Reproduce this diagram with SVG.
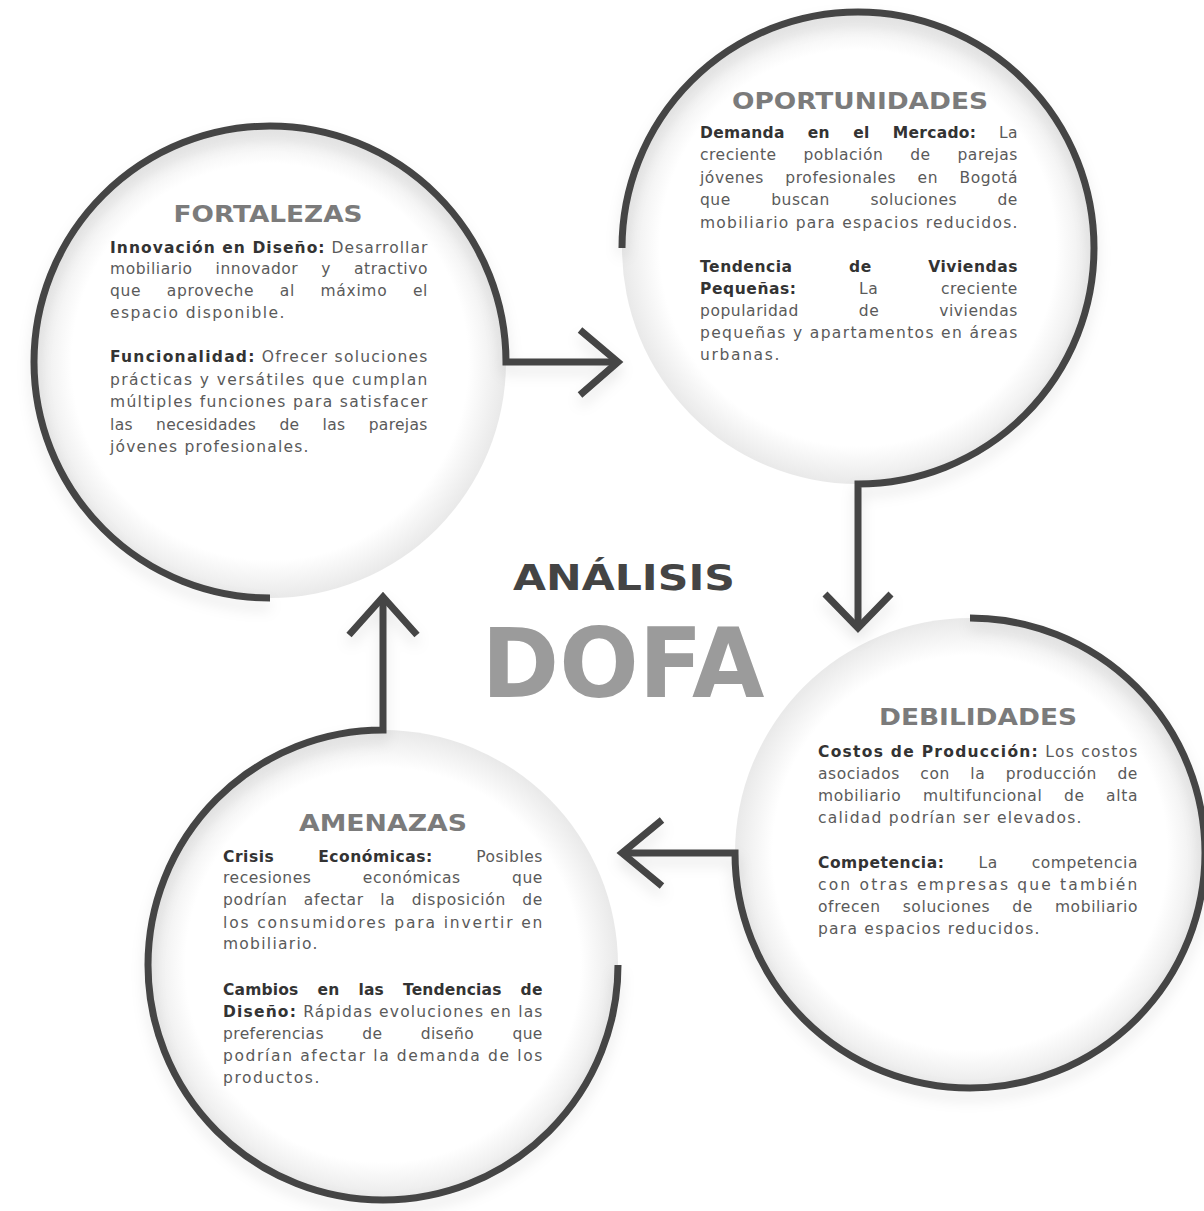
<svg xmlns="http://www.w3.org/2000/svg" width="1204" height="1211" viewBox="0 0 1204 1211">
<style>
.c{fill:none;stroke:#454545;stroke-width:7;stroke-linecap:butt;stroke-linejoin:miter}
.h{font-family:"DejaVu Sans","Liberation Sans",sans-serif;font-weight:bold;font-size:23px;fill:#7b7b7b}
.t{font-family:"DejaVu Sans","Liberation Sans",sans-serif;font-size:15.5px;fill:#5a5a5a;letter-spacing:0.6px}
.b{font-weight:bold;fill:#333}
</style>
<defs>
<radialGradient id="g" cx="0.5" cy="0.5" r="0.5">
<stop offset="0.84" stop-color="#ffffff"/>
<stop offset="1" stop-color="#e9e9e9"/>
</radialGradient>
<filter id="s" x="-20%" y="-20%" width="140%" height="140%">
<feDropShadow dx="0" dy="8" stdDeviation="7" flood-color="#000" flood-opacity="0.10"/>
</filter>
</defs>
<rect width="1204" height="1211" fill="#ffffff"/>

<g id="bg">
<circle cx="270" cy="362" r="236" fill="url(#g)"/>
<circle cx="858" cy="248" r="236" fill="url(#g)"/>
<circle cx="970" cy="853" r="235" fill="url(#g)"/>
<circle cx="383" cy="965" r="235" fill="url(#g)"/>
</g>

<g id="connectors" filter="url(#s)">
<path class="c" d="M270,598 A236,236 0 1 1 506,362 L618,362"/>
<path class="c" d="M580,330 L618,362 L580,395"/>
<path class="c" d="M622,248 A236,236 0 1 1 858,484 L858,628"/>
<path class="c" d="M825,594 L858,628 L891,594"/>
<path class="c" d="M970,618 A235,235 0 1 1 735,853 L622,853"/>
<path class="c" d="M662,820 L622,853 L662,886"/>
<path class="c" d="M618,965 A235,235 0 1 1 383,730 L383,597"/>
<path class="c" d="M349,635 L383,597 L417,635"/>
</g>

<g id="title">
<text x="624" y="590" text-anchor="middle" textLength="222" lengthAdjust="spacingAndGlyphs" font-family="DejaVu Sans, sans-serif" font-weight="bold" font-size="35" fill="#444">ANÁLISIS</text>
<text x="623" y="697" text-anchor="middle" textLength="283" lengthAdjust="spacingAndGlyphs" font-family="DejaVu Sans, sans-serif" font-weight="bold" font-size="97" fill="#9b9b9b">DOFA</text>
</g>

<g id="fortalezas">
<text class="h" x="268" y="222" text-anchor="middle" textLength="189" lengthAdjust="spacingAndGlyphs">FORTALEZAS</text>
<text class="t" x="110" y="253" textLength="318" lengthAdjust="spacing"><tspan class="b">Innovación en Diseño:</tspan> Desarrollar</text>
<text class="t" x="110" y="274" textLength="318" lengthAdjust="spacing" style="word-spacing:17.5px">mobiliario innovador y atractivo</text>
<text class="t" x="110" y="296" textLength="318" lengthAdjust="spacing" style="word-spacing:20px">que aproveche al máximo el</text>
<text class="t" x="110" y="318" textLength="175" lengthAdjust="spacing">espacio disponible.</text>
<text class="t" x="110" y="362" textLength="318" lengthAdjust="spacing"><tspan class="b">Funcionalidad:</tspan> Ofrecer soluciones</text>
<text class="t" x="110" y="385" textLength="318" lengthAdjust="spacing">prácticas y versátiles que cumplan</text>
<text class="t" x="110" y="407" textLength="318" lengthAdjust="spacing">múltiples funciones para satisfacer</text>
<text class="t" x="110" y="430" textLength="318" lengthAdjust="spacing" style="word-spacing:18px">las necesidades de las parejas</text>
<text class="t" x="110" y="452" textLength="199" lengthAdjust="spacing">jóvenes profesionales.</text>
</g>

<g id="oportunidades">
<text class="h" x="860" y="109" text-anchor="middle" textLength="256" lengthAdjust="spacingAndGlyphs">OPORTUNIDADES</text>
<text class="t" x="700" y="138" textLength="318" lengthAdjust="spacing" style="word-spacing:17.5px"><tspan class="b">Demanda en el Mercado:</tspan> La</text>
<text class="t" x="700" y="160" textLength="318" lengthAdjust="spacing" style="word-spacing:21.5px">creciente población de parejas</text>
<text class="t" x="700" y="183" textLength="318" lengthAdjust="spacing" style="word-spacing:16px">jóvenes profesionales en Bogotá</text>
<text class="t" x="700" y="205" textLength="318" lengthAdjust="spacing" style="word-spacing:35px">que buscan soluciones de</text>
<text class="t" x="700" y="228" textLength="318" lengthAdjust="spacing">mobiliario para espacios reducidos.</text>
<text class="t b" x="700" y="272" textLength="318" lengthAdjust="spacing" style="word-spacing:50.5px">Tendencia de Viviendas</text>
<text class="t" x="700" y="294" textLength="318" lengthAdjust="spacing" style="word-spacing:57px"><tspan class="b">Pequeñas:</tspan> La creciente</text>
<text class="t" x="700" y="316" textLength="318" lengthAdjust="spacing" style="word-spacing:54.5px">popularidad de viviendas</text>
<text class="t" x="700" y="338" textLength="318" lengthAdjust="spacing">pequeñas y apartamentos en áreas</text>
<text class="t" x="700" y="360" textLength="80" lengthAdjust="spacing">urbanas.</text>
</g>

<g id="debilidades">
<text class="h" x="978" y="725" text-anchor="middle" textLength="198" lengthAdjust="spacingAndGlyphs">DEBILIDADES</text>
<text class="t" x="818" y="757" textLength="320" lengthAdjust="spacing"><tspan class="b">Costos de Producción:</tspan> Los costos</text>
<text class="t" x="818" y="779" textLength="320" lengthAdjust="spacing" style="word-spacing:15px">asociados con la producción de</text>
<text class="t" x="818" y="801" textLength="320" lengthAdjust="spacing" style="word-spacing:16px">mobiliario multifuncional de alta</text>
<text class="t" x="818" y="823" textLength="264" lengthAdjust="spacing">calidad podrían ser elevados.</text>
<text class="t" x="818" y="868" textLength="320" lengthAdjust="spacing" style="word-spacing:28.5px"><tspan class="b">Competencia:</tspan> La competencia</text>
<text class="t" x="818" y="890" textLength="320" lengthAdjust="spacing">con otras empresas que también</text>
<text class="t" x="818" y="912" textLength="320" lengthAdjust="spacing" style="word-spacing:16.5px">ofrecen soluciones de mobiliario</text>
<text class="t" x="818" y="934" textLength="222" lengthAdjust="spacing">para espacios reducidos.</text>
</g>

<g id="amenazas">
<text class="h" x="383" y="831" text-anchor="middle" textLength="168" lengthAdjust="spacingAndGlyphs">AMENAZAS</text>
<text class="t" x="223" y="862" textLength="320" lengthAdjust="spacing" style="word-spacing:38px"><tspan class="b">Crisis Económicas:</tspan> Posibles</text>
<text class="t" x="223" y="883" textLength="320" lengthAdjust="spacing" style="word-spacing:46px">recesiones económicas que</text>
<text class="t" x="223" y="905" textLength="320" lengthAdjust="spacing" style="word-spacing:10.5px">podrían afectar la disposición de</text>
<text class="t" x="223" y="928" textLength="320" lengthAdjust="spacing">los consumidores para invertir en</text>
<text class="t" x="223" y="949" textLength="95" lengthAdjust="spacing">mobiliario.</text>
<text class="t b" x="223" y="995" textLength="320" lengthAdjust="spacing" style="word-spacing:13.5px">Cambios en las Tendencias de</text>
<text class="t" x="223" y="1017" textLength="320" lengthAdjust="spacing"><tspan class="b">Diseño:</tspan> Rápidas evoluciones en las</text>
<text class="t" x="223" y="1039" textLength="320" lengthAdjust="spacing" style="word-spacing:33px">preferencias de diseño que</text>
<text class="t" x="223" y="1061" textLength="320" lengthAdjust="spacing">podrían afectar la demanda de los</text>
<text class="t" x="223" y="1083" textLength="97" lengthAdjust="spacing">productos.</text>
</g>
</svg>
